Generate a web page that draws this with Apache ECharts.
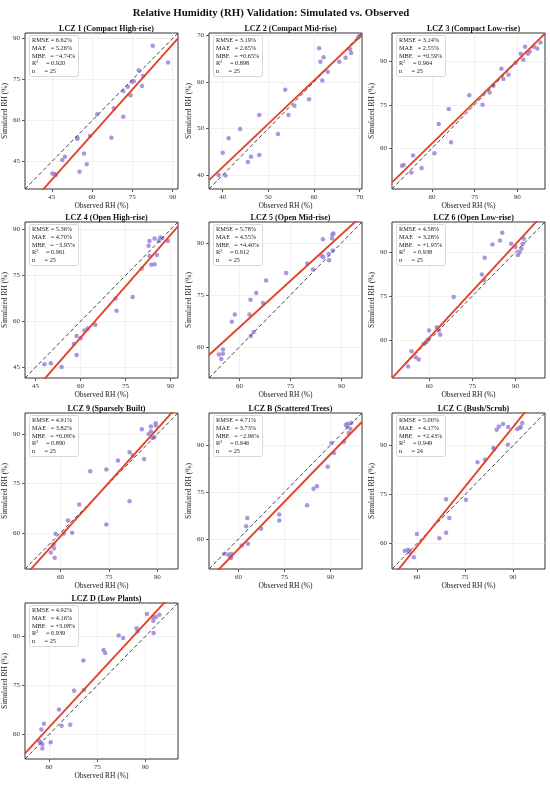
<!DOCTYPE html>
<html>
<head>
<meta charset="utf-8">
<title>RH Validation</title>
<script src="https://cdn.jsdelivr.net/npm/echarts@6/dist/echarts.min.js"></script>
<style>
  html, body { margin: 0; padding: 0; background: #fff; }
  #chart { width: 550px; height: 785px; }
</style>
</head>
<body>
<div id="chart"></div>
<script>
// panel names, in drawing order (3 per row)
const panelNames = [
  'LCZ 1 (Compact High-rise)', 'LCZ 2 (Compact Mid-rise)', 'LCZ 3 (Compact Low-rise)',
  'LCZ 4 (Open High-rise)', 'LCZ 5 (Open Mid-rise)', 'LCZ 6 (Open Low-rise)',
  'LCZ 9 (Sparsely Built)', 'LCZ B (Scattered Trees)', 'LCZ C (Bush/Scrub)',
  'LCZ D (Low Plants)'
];

// observed / simulated RH (%)
const lcz1Obs = [82.6, 88.3, 77.4, 79.0, 75.5, 73.3, 78.6, 71.6, 74.3, 68.1, 71.6, 61.9, 67.2, 59.2, 54.5, 57.0, 49.9, 48.9, 58.0, 55.3, 45.2, 46.5, 74.9, 54.5, 46.1];
const lcz1Sim = [87.3, 81.2, 78.4, 76.3, 74.4, 72.4, 72.6, 70.8, 69.3, 64.5, 61.4, 62.3, 53.7, 54.4, 53.7, 48.0, 46.8, 45.6, 44.0, 41.3, 40.7, 40.1, 74.2, 53.4, 40.5];
const lcz2Obs = [61.1, 67.9, 61.4, 62.1, 65.5, 66.9, 68.1, 63.0, 61.8, 53.7, 58.9, 55.7, 54.4, 48.0, 43.8, 41.3, 52.1, 40.0, 48.0, 46.2, 45.5, 39.1, 40.6, 70.0, 69.7];
const lcz2Sim = [67.2, 67.0, 64.3, 65.3, 64.3, 65.2, 66.2, 62.2, 60.3, 58.3, 56.3, 54.9, 52.9, 52.9, 49.9, 47.9, 48.8, 44.8, 44.3, 43.9, 42.8, 40.0, 39.9, 70.0, 69.6];
const lcz3Obs = [92.7, 95.8, 98.1, 97.0, 94.3, 91.2, 93.7, 92.1, 89.4, 84.4, 85.1, 86.9, 81.6, 80.3, 73.1, 77.8, 65.9, 62.4, 66.7, 60.9, 53.4, 50.1, 49.5, 56.4, 52.8];
const lcz3Sim = [95.0, 95.0, 96.4, 94.4, 93.3, 92.6, 92.6, 90.5, 89.5, 87.4, 83.9, 85.3, 81.5, 79.2, 78.3, 75.0, 73.5, 68.4, 62.1, 58.3, 57.5, 54.3, 54.0, 53.2, 51.7];
const lcz4Obs = [83.0, 82.7, 84.7, 86.6, 87.2, 89.1, 83.0, 85.5, 83.6, 84.7, 80.4, 71.7, 77.4, 72.0, 64.9, 62.4, 61.3, 60.0, 58.7, 58.7, 48.0, 50.1, 53.7, 86.1, 57.8];
const lcz4Sim = [86.3, 84.7, 87.1, 87.4, 87.2, 86.3, 81.4, 81.7, 78.5, 78.7, 77.3, 67.5, 68.0, 63.5, 58.9, 57.7, 57.0, 54.5, 55.2, 49.0, 46.0, 46.3, 45.1, 86.3, 52.6];
const lcz5Obs = [87.6, 87.3, 87.2, 84.5, 87.4, 86.2, 84.1, 84.6, 86.3, 79.9, 81.6, 73.7, 67.8, 64.9, 63.2, 66.9, 62.9, 58.6, 57.7, 64.1, 63.3, 55.1, 53.9, 55.1, 54.6];
const lcz5Sim = [92.7, 92.4, 91.3, 91.0, 87.8, 86.8, 86.3, 85.9, 85.0, 84.0, 82.3, 81.3, 79.1, 75.5, 73.6, 72.6, 69.3, 69.3, 67.2, 64.3, 63.1, 59.2, 57.8, 58.0, 56.5];
const lcz6Obs = [85.4, 84.6, 82.0, 88.5, 92.9, 90.0, 92.5, 92.1, 91.4, 90.9, 79.3, 78.3, 79.1, 68.5, 63.3, 62.6, 63.8, 59.9, 59.5, 58.9, 58.0, 53.8, 55.3, 56.3, 52.6];
const lcz6Sim = [96.6, 94.0, 92.6, 92.9, 94.6, 91.8, 92.8, 91.2, 90.0, 89.0, 88.1, 82.4, 80.4, 74.7, 63.2, 64.3, 61.8, 63.2, 60.1, 59.2, 58.6, 56.1, 54.1, 53.3, 50.9];
const lcz9Obs = [89.5, 89.5, 88.0, 85.2, 88.0, 87.3, 89.0, 88.5, 81.4, 82.4, 85.9, 77.8, 69.2, 74.2, 81.4, 65.8, 62.3, 74.2, 58.5, 61.0, 63.6, 57.8, 58.0, 57.0, 58.2];
const lcz9Sim = [93.3, 92.6, 92.3, 91.5, 90.8, 90.0, 89.0, 88.8, 84.5, 83.5, 82.4, 82.0, 78.7, 79.2, 69.6, 68.6, 63.7, 62.5, 59.7, 59.8, 60.0, 56.5, 55.3, 54.0, 52.4];
const lczBObs = [95.1, 95.7, 96.8, 96.5, 96.0, 90.3, 94.4, 91.1, 89.1, 85.6, 84.5, 82.4, 73.3, 73.3, 62.9, 62.5, 67.4, 63.1, 61.1, 55.4, 56.7, 57.3, 57.6, 57.8, 95.4];
const lczBSim = [96.6, 96.8, 97.2, 95.3, 93.9, 90.7, 91.1, 87.5, 83.1, 76.9, 76.1, 70.8, 67.8, 65.9, 66.7, 64.1, 63.3, 58.5, 57.9, 55.3, 55.0, 54.5, 53.9, 55.2, 96.1];
const lczCObs = [86.9, 85.6, 84.9, 88.5, 92.9, 92.4, 91.3, 88.4, 83.9, 81.3, 78.9, 69.1, 75.3, 70.1, 69.1, 67.0, 60.0, 59.0, 56.2, 57.5, 57.7, 57.2, 84.1, 92.1];
const lczCSim = [96.6, 95.9, 94.9, 95.7, 96.9, 95.7, 95.1, 90.3, 89.3, 85.7, 84.9, 73.6, 73.4, 67.8, 63.3, 61.6, 62.9, 55.8, 57.8, 57.8, 57.4, 58.0, 89.0, 95.4];
const lczDObs = [90.5, 94.4, 93.3, 92.5, 92.5, 92.6, 87.3, 81.7, 83.1, 77.0, 77.5, 70.7, 67.8, 70.9, 63.1, 58.4, 57.6, 63.9, 66.6, 56.9, 60.5, 57.9, 57.9, 87.6, 57.4];
const lczDSim = [96.8, 96.6, 95.9, 95.8, 94.8, 91.0, 92.5, 90.3, 89.5, 85.8, 84.9, 82.6, 73.4, 73.6, 67.6, 63.3, 61.5, 62.7, 63.0, 58.0, 57.6, 57.0, 55.7, 91.5, 57.5];

// fitted regression line (sim = slope * obs + intercept)
const fitSlope = [1.098, 0.931, 0.953, 1.121, 0.893, 1.063, 1.089, 1.011, 1.22, 1.06];
const fitIntercept = [-11.0, 4.45, 4.46, -12.6, 12.1, -3.0, -6.4, -3.9, -14.1, -1.4];

// shared x/y limits and tick labels for each panel
const axisMin = [35, 37, 46, 41.5, 51, 47, 49, 50.4, 52.2, 52.5];
const axisMax = [92, 70.5, 99.7, 92.5, 96, 100.3, 96.4, 100.3, 100, 100.2];
const tickValues = [
  [45, 60, 75, 90], [40, 50, 60, 70], [60, 75, 90],
  [45, 60, 75, 90], [60, 75, 90], [60, 75, 90],
  [60, 75, 90], [60, 75, 90], [60, 75, 90],
  [60, 75, 90]
];

// stats box values
const rmse = ['6.62%', '3.19%', '3.14%', '5.36%', '5.78%', '4.58%', '4.91%', '4.71%', '5.00%', '4.92%'];
const mae = ['5.26%', '2.65%', '2.55%', '4.70%', '4.55%', '3.28%', '3.82%', '3.73%', '4.17%', '4.16%'];
const mbe = ['\u22124.74%', '+0.65%', '+0.59%', '\u22123.95%', '+4.40%', '+1.95%', '+0.09%', '\u22122.96%', '+2.43%', '+3.08%'];
const r2 = ['0.920', '0.898', '0.964', '0.961', '0.912', '0.938', '0.890', '0.946', '0.949', '0.939'];
const nCount = [25, 25, 25, 25, 25, 25, 25, 25, 24, 25];

const obsList = [lcz1Obs, lcz2Obs, lcz3Obs, lcz4Obs, lcz5Obs, lcz6Obs, lcz9Obs, lczBObs, lczCObs, lczDObs];
const simList = [lcz1Sim, lcz2Sim, lcz3Sim, lcz4Sim, lcz5Sim, lcz6Sim, lcz9Sim, lczBSim, lczCSim, lczDSim];

const FONT = "'Liberation Serif', 'DejaVu Serif', serif";
const colLeft = [25, 209, 392];
const rowTop = [33, 222, 413, 603];
const W = 153, H = 156;

const chart = echarts.init(document.getElementById('chart'));

const grid = [], xAxis = [], yAxis = [], series = [];
const title = [{
  text: 'Relative Humidity (RH) Validation: Simulated vs. Observed',
  left: 266, top: 3, textAlign: 'center',
  textStyle: { fontFamily: FONT, fontSize: 10.8, fontWeight: 'bold', color: '#111' }
}];

panelNames.forEach((name, i) => {
  const left = colLeft[i % 3];
  const top = rowTop[Math.floor(i / 3)];
  const lo = axisMin[i], hi = axisMax[i];

  grid.push({ left, top, width: W, height: H, show: true, borderColor: '#333', borderWidth: 1 });

  const axisBase = (nm, gap) => ({
    type: 'value', gridIndex: i, min: lo, max: hi,
    name: nm, nameLocation: 'middle', nameGap: gap,
    nameTextStyle: { fontFamily: FONT, fontSize: 7.5, color: '#222' },
    axisLine: { show: false },
    axisTick: { show: true, length: 3, customValues: tickValues[i], lineStyle: { color: '#333', width: 0.8 } },
    axisLabel: { customValues: tickValues[i], fontFamily: FONT, fontSize: 7, color: '#333', margin: 5 },
    splitLine: { show: true, lineStyle: { color: '#e8e8e8', width: 0.6 } }
  });
  xAxis.push(axisBase('Observed RH (%)', 11.5));
  yAxis.push(axisBase('Simulated RH (%)', 14));

  // panel title
  title.push({
    text: name, left: left + W / 2, top: top - 13, textAlign: 'center',
    textStyle: { fontFamily: FONT, fontSize: 8, fontWeight: 'bold', color: '#111' }
  });
  // stats box
  title.push({
    text: [
      'RMSE = ' + rmse[i],
      'MAE   = ' + mae[i],
      'MBE   = ' + mbe[i],
      'R\u00b2     = ' + r2[i],
      'n      = ' + nCount[i]
    ].join('\n'),
    left: left + 4, top: top + 2,
    backgroundColor: 'rgba(255,255,255,0.9)', borderColor: '#cfcfcf', borderWidth: 0.8, borderRadius: 2,
    padding: [2, 3, 2, 3],
    textStyle: { fontFamily: FONT, fontSize: 6.3, fontWeight: 'normal', color: '#222', lineHeight: 7.6 }
  });

  const pts = obsList[i].map((o, k) => [o, simList[i][k]]);
  series.push({
    type: 'scatter', xAxisIndex: i, yAxisIndex: i, data: pts,
    symbolSize: 4.5, itemStyle: { color: '#9b84d8', opacity: 0.85 }, z: 2
  });
  series.push({
    type: 'line', xAxisIndex: i, yAxisIndex: i,
    data: [[lo, lo], [hi, hi]], symbol: 'none', clip: true,
    lineStyle: { color: '#444', width: 1, type: [4, 2.5] }, z: 3
  });
  series.push({
    type: 'line', xAxisIndex: i, yAxisIndex: i,
    data: [[lo, fitSlope[i] * lo + fitIntercept[i]], [hi, fitSlope[i] * hi + fitIntercept[i]]],
    symbol: 'none', clip: true,
    lineStyle: { color: '#e4432b', width: 1.9 }, z: 4
  });
});

chart.setOption({
  animation: false,
  backgroundColor: '#fff',
  title, grid, xAxis, yAxis, series
});
</script>
</body>
</html>
